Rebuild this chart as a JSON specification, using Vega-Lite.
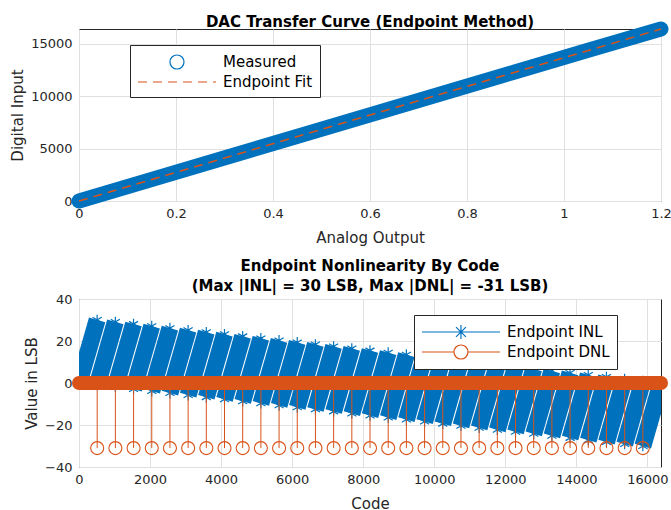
{
  "$schema": "https://vega.github.io/schema/vega-lite/v6.json",
  "background": "white",
  "padding": {"left": 10, "top": 14, "right": 5, "bottom": 0},
  "spacing": 12,
  "resolve": {"scale": {"color": "independent"}, "legend": {"color": "independent"}},
  "config": {
    "font": "DejaVu Sans",
    "view": {"stroke": "#262626", "strokeWidth": 1},
    "axis": {
      "labelFont": "DejaVu Sans", "labelFontSize": 13, "labelColor": "#262626",
      "titleFont": "DejaVu Sans", "titleFontSize": 15, "titleFontWeight": "normal", "titleColor": "#262626",
      "gridColor": "#e0e0e0", "gridOpacity": 1, "domain": false, "ticks": false,
      "labelPadding": 6, "titlePadding": 10, "labelFlush": false, "labelOverlap": false
    },
    "title": {"font": "DejaVu Sans", "fontSize": 15, "fontWeight": "bold", "color": "#000", "offset": 4, "lineHeight": 20},
    "legend": {
      "labelFont": "DejaVu Sans", "labelFontSize": 15, "labelColor": "#000",
      "strokeColor": "#262626", "fillColor": "#ffffff", "padding": 7, "rowPadding": 0,
      "symbolSize": 324, "symbolStrokeWidth": 1.2, "labelOffset": 66, "title": null
    }
  },
  "vconcat": [
    {
      "width": 582, "height": 172,
      "title": {"text": "DAC Transfer Curve (Endpoint Method)", "offset": -8},
      "layer": [
        {
          "data": {"values": [
            {"analog": 0, "code": 0},
            {"analog": 0.1497, "code": 2048},
            {"analog": 0.2994, "code": 4096},
            {"analog": 0.4492, "code": 6144},
            {"analog": 0.5989, "code": 8192},
            {"analog": 0.7486, "code": 10240},
            {"analog": 0.8984, "code": 12288},
            {"analog": 1.0481, "code": 14336},
            {"analog": 1.2, "code": 16383}
          ]},
          "mark": {"type": "line", "strokeWidth": 15, "strokeCap": "round", "strokeJoin": "round", "clip": false},
          "encoding": {
            "x": {"field": "analog", "type": "quantitative", "scale": {"domain": [0, 1.2], "nice": false, "zero": false},
                  "axis": {"title": "Analog Output", "values": [0, 0.2, 0.4, 0.6, 0.8, 1, 1.2], "format": "~g", "grid": true}},
            "y": {"field": "code", "type": "quantitative", "scale": {"domain": [0, 16383], "nice": false},
                  "axis": {"title": "Digital Input", "values": [0, 5000, 10000, 15000], "format": "d", "grid": true, "labelPadding": 7, "titlePadding": 5}},
            "color": {"datum": "Measured", "type": "nominal",
              "scale": {"domain": ["Measured", "Endpoint Fit"], "range": ["#0072BD", "#D95319"]},
              "legend": {
                "orient": "none", "legendX": 51, "legendY": 16,
                "encode": {"symbols": {"update": {
                  "shape": {"signal": "datum.value === 'Measured' ? 'M4.11,0A0.78,0.78 0 1,1 2.55,0A0.78,0.78 0 1,1 4.11,0Z' : 'M-1,0H7.67'"},
                  "strokeDash": {"signal": "datum.value === 'Endpoint Fit' ? [9,6] : [1000,0]"},
                  "fill": {"value": "transparent"},
                  "stroke": {"signal": "datum.value === 'Measured' ? '#0072BD' : '#D95319'"},
                  "strokeWidth": {"value": 1.2},
                  "opacity": {"value": 1}
                }}}
              }}
          }
        },
        {
          "data": {"values": [
            {"analog": 0, "code": 0},
            {"analog": 1.2, "code": 16383}
          ]},
          "mark": {"type": "line", "strokeWidth": 1.5, "strokeDash": [9, 6], "strokeJoin": "round", "clip": false},
          "encoding": {
            "x": {"field": "analog", "type": "quantitative"},
            "y": {"field": "code", "type": "quantitative"},
            "color": {"datum": "Endpoint Fit", "type": "nominal"}
          }
        }
      ]
    },
    {
      "width": 582, "height": 168,
      "title": {"text": ["Endpoint Nonlinearity By Code", "(Max |INL| = 30 LSB, Max |DNL| = -31 LSB)"], "offset": -1},
      "layer": [
        {
          "data": {"name": "inl", "values": [
            {"seg": 0, "code": 0, "inl": 0}, {"seg": 0, "code": 511, "inl": 30.03},
            {"seg": 1, "code": 512, "inl": -0.97}, {"seg": 1, "code": 1023, "inl": 29.06},
            {"seg": 2, "code": 1024, "inl": -1.94}, {"seg": 2, "code": 1535, "inl": 28.09},
            {"seg": 3, "code": 1536, "inl": -2.91}, {"seg": 3, "code": 2047, "inl": 27.12},
            {"seg": 4, "code": 2048, "inl": -3.88}, {"seg": 4, "code": 2559, "inl": 26.15},
            {"seg": 5, "code": 2560, "inl": -4.85}, {"seg": 5, "code": 3071, "inl": 25.18},
            {"seg": 6, "code": 3072, "inl": -5.82}, {"seg": 6, "code": 3583, "inl": 24.21},
            {"seg": 7, "code": 3584, "inl": -6.79}, {"seg": 7, "code": 4095, "inl": 23.24},
            {"seg": 8, "code": 4096, "inl": -7.76}, {"seg": 8, "code": 4607, "inl": 22.27},
            {"seg": 9, "code": 4608, "inl": -8.73}, {"seg": 9, "code": 5119, "inl": 21.3},
            {"seg": 10, "code": 5120, "inl": -9.7}, {"seg": 10, "code": 5631, "inl": 20.33},
            {"seg": 11, "code": 5632, "inl": -10.67}, {"seg": 11, "code": 6143, "inl": 19.36},
            {"seg": 12, "code": 6144, "inl": -11.64}, {"seg": 12, "code": 6655, "inl": 18.39},
            {"seg": 13, "code": 6656, "inl": -12.61}, {"seg": 13, "code": 7167, "inl": 17.42},
            {"seg": 14, "code": 7168, "inl": -13.58}, {"seg": 14, "code": 7679, "inl": 16.45},
            {"seg": 15, "code": 7680, "inl": -14.55}, {"seg": 15, "code": 8191, "inl": 15.48},
            {"seg": 16, "code": 8192, "inl": -15.52}, {"seg": 16, "code": 8703, "inl": 14.51},
            {"seg": 17, "code": 8704, "inl": -16.49}, {"seg": 17, "code": 9215, "inl": 13.54},
            {"seg": 18, "code": 9216, "inl": -17.46}, {"seg": 18, "code": 9727, "inl": 12.57},
            {"seg": 19, "code": 9728, "inl": -18.43}, {"seg": 19, "code": 10239, "inl": 11.6},
            {"seg": 20, "code": 10240, "inl": -19.4}, {"seg": 20, "code": 10751, "inl": 10.63},
            {"seg": 21, "code": 10752, "inl": -20.37}, {"seg": 21, "code": 11263, "inl": 9.66},
            {"seg": 22, "code": 11264, "inl": -21.34}, {"seg": 22, "code": 11775, "inl": 8.69},
            {"seg": 23, "code": 11776, "inl": -22.31}, {"seg": 23, "code": 12287, "inl": 7.72},
            {"seg": 24, "code": 12288, "inl": -23.28}, {"seg": 24, "code": 12799, "inl": 6.75},
            {"seg": 25, "code": 12800, "inl": -24.25}, {"seg": 25, "code": 13311, "inl": 5.78},
            {"seg": 26, "code": 13312, "inl": -25.22}, {"seg": 26, "code": 13823, "inl": 4.81},
            {"seg": 27, "code": 13824, "inl": -26.19}, {"seg": 27, "code": 14335, "inl": 3.84},
            {"seg": 28, "code": 14336, "inl": -27.16}, {"seg": 28, "code": 14847, "inl": 2.87},
            {"seg": 29, "code": 14848, "inl": -28.13}, {"seg": 29, "code": 15359, "inl": 1.9},
            {"seg": 30, "code": 15360, "inl": -29.1}, {"seg": 30, "code": 15871, "inl": 0.93},
            {"seg": 31, "code": 15872, "inl": -30.03}, {"seg": 31, "code": 16383, "inl": 0}
          ]},
          "layer": [
            {
              "mark": {"type": "line", "strokeWidth": 17, "strokeCap": "butt", "clip": true},
              "encoding": {
                "x": {"field": "code", "type": "quantitative", "scale": {"domain": [0, 16383], "nice": false, "zero": false},
                      "axis": {"title": "Code", "values": [0, 2000, 4000, 6000, 8000, 10000, 12000, 14000, 16000], "format": "d", "grid": true, "labelPadding": 6}},
                "y": {"field": "inl", "type": "quantitative", "scale": {"domain": [-40, 40], "nice": false},
                      "axis": {"title": "Value in LSB", "values": [-40, -20, 0, 20, 40], "format": "d", "grid": true, "labelPadding": 7, "titlePadding": 5}},
                "detail": {"field": "seg", "type": "nominal"},
                "color": {"datum": "Endpoint INL", "type": "nominal",
                  "scale": {"domain": ["Endpoint INL", "Endpoint DNL"], "range": ["#0072BD", "#D95319"]},
                  "legend": {
                    "orient": "none", "legendX": 335, "legendY": 16,
                    "encode": {"symbols": {"update": {
                      "shape": {"signal": "datum.value === 'Endpoint INL' ? 'M-1,0H7.67M3.33,-0.78V0.78M2.78,-0.55L3.88,0.55M2.78,0.55L3.88,-0.55' : 'M-1,0H2.55M4.11,0H7.67M4.11,0A0.78,0.78 0 1,1 2.55,0A0.78,0.78 0 1,1 4.11,0Z'"},
                      "fill": {"value": "transparent"},
                      "stroke": {"signal": "datum.value === 'Endpoint INL' ? '#0072BD' : '#D95319'"},
                      "strokeWidth": {"value": 1.2},
                      "opacity": {"value": 1}
                    }}}
                  }}
              }
            },
            {
              "mark": {"type": "point", "shape": "M0,-1V1M-0.87,-0.5L0.87,0.5M-0.87,0.5L0.87,-0.5", "size": 110, "filled": false, "strokeWidth": 1.2, "opacity": 1, "clip": true},
              "encoding": {
                "x": {"field": "code", "type": "quantitative"},
                "y": {"field": "inl", "type": "quantitative"},
                "color": {"datum": "Endpoint INL", "type": "nominal"}
              }
            }
          ]
        },
        {
          "data": {"name": "dnl", "values": [
            {"code": 0, "dnl": 0},
            {"code": 512, "dnl": -31}, {"code": 1024, "dnl": -31}, {"code": 1536, "dnl": -31}, {"code": 2048, "dnl": -31},
            {"code": 2560, "dnl": -31}, {"code": 3072, "dnl": -31}, {"code": 3584, "dnl": -31}, {"code": 4096, "dnl": -31},
            {"code": 4608, "dnl": -31}, {"code": 5120, "dnl": -31}, {"code": 5632, "dnl": -31}, {"code": 6144, "dnl": -31},
            {"code": 6656, "dnl": -31}, {"code": 7168, "dnl": -31}, {"code": 7680, "dnl": -31}, {"code": 8192, "dnl": -31},
            {"code": 8704, "dnl": -31}, {"code": 9216, "dnl": -31}, {"code": 9728, "dnl": -31}, {"code": 10240, "dnl": -31},
            {"code": 10752, "dnl": -31}, {"code": 11264, "dnl": -31}, {"code": 11776, "dnl": -31}, {"code": 12288, "dnl": -31},
            {"code": 12800, "dnl": -31}, {"code": 13312, "dnl": -31}, {"code": 13824, "dnl": -31}, {"code": 14336, "dnl": -31},
            {"code": 14848, "dnl": -31}, {"code": 15360, "dnl": -31}, {"code": 15872, "dnl": -31},
            {"code": 16383, "dnl": 0}
          ]},
          "layer": [
            {
              "mark": {"type": "rule", "strokeWidth": 14, "strokeCap": "round", "clip": false},
              "encoding": {
                "x": {"aggregate": "min", "field": "code", "type": "quantitative"},
                "x2": {"aggregate": "max", "field": "code"},
                "y": {"datum": 0, "type": "quantitative"},
                "color": {"datum": "Endpoint DNL", "type": "nominal"}
              }
            },
            {
              "transform": [{"filter": "datum.dnl < 0"}],
              "mark": {"type": "rule", "strokeWidth": 1},
              "encoding": {
                "x": {"field": "code", "type": "quantitative"},
                "y": {"field": "dnl", "type": "quantitative"},
                "y2": {"datum": 0},
                "color": {"datum": "Endpoint DNL", "type": "nominal"}
              }
            },
            {
              "transform": [{"filter": "datum.dnl < 0"}],
              "mark": {"type": "point", "filled": false, "size": 170, "strokeWidth": 1.1, "opacity": 1},
              "encoding": {
                "x": {"field": "code", "type": "quantitative"},
                "y": {"field": "dnl", "type": "quantitative"},
                "color": {"datum": "Endpoint DNL", "type": "nominal"}
              }
            }
          ]
        }
      ]
    }
  ]
}
